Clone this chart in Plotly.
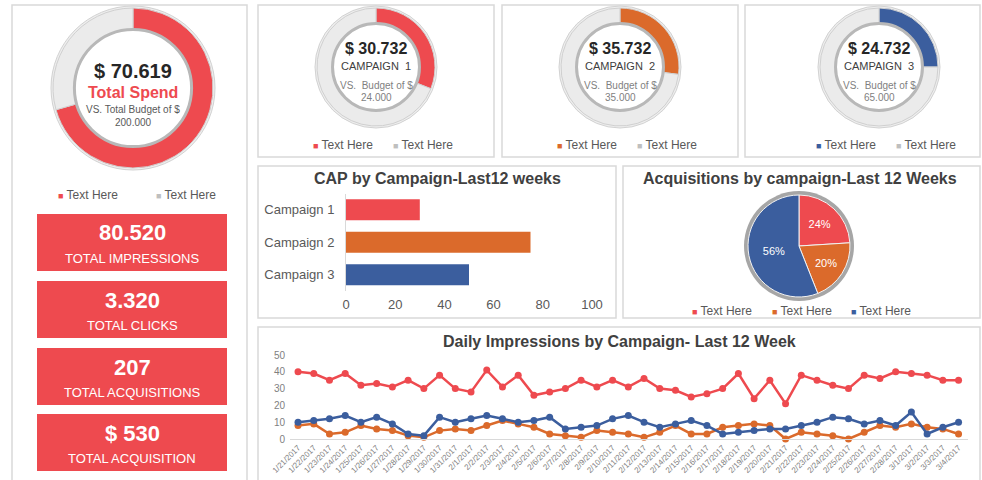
import plotly.graph_objects as go

W, H = 982, 480
FONT = "Liberation Sans, Arial, sans-serif"
RED = "#EE4A4F"
ORANGE = "#DB6A2B"
BLUE = "#3B5E9E"
LIGHT = "#EBEBEB"
DARK = "#262626"
TITLE = "#404040"
GREY = "#595959"

# ---------------- data ----------------
total_spend = "$ 70.619"
total_budget = "200.000"
spend_share = [70.619, 29.381]

campaign_names = ["Campaign 1", "Campaign 2", "Campaign 3"]
campaign_spend = ["$ 30.732", "$ 35.732", "$ 24.732"]
campaign_budget = ["24.000", "35.000", "65.000"]
campaign_share = [31, 27, 25]
campaign_colors = [RED, ORANGE, BLUE]

cap_values = [30, 75, 50]
acq_share = [24, 20, 56]
legend_text = "Text Here"

kpi_values = ["80.520", "3.320", "207", "$ 530"]
kpi_labels = ["TOTAL IMPRESSIONS", "TOTAL CLICKS", "TOTAL ACQUISITIONS", "TOTAL ACQUISITION"]

dates = ["1/21/2017", "1/22/2017", "1/23/2017", "1/24/2017", "1/25/2017", "1/26/2017",
         "1/27/2017", "1/28/2017", "1/29/2017", "1/30/2017", "1/31/2017",
         "2/1/2017", "2/2/2017", "2/3/2017", "2/4/2017", "2/5/2017", "2/6/2017", "2/7/2017",
         "2/8/2017", "2/9/2017", "2/10/2017", "2/11/2017", "2/12/2017", "2/13/2017",
         "2/14/2017", "2/15/2017", "2/16/2017", "2/17/2017", "2/18/2017", "2/19/2017",
         "2/20/2017", "2/21/2017", "2/22/2017", "2/23/2017", "2/24/2017", "2/25/2017",
         "2/26/2017", "2/27/2017", "2/28/2017", "3/1/2017", "3/2/2017", "3/3/2017", "3/4/2017"]
imp_c1 = [40, 39, 35, 39, 32, 33, 31, 35, 30, 38, 30, 28, 41, 31, 38, 26, 28, 30, 35, 31, 35,
          31, 36, 30, 29, 25, 27, 30, 39, 24, 35, 21, 38, 35, 32, 30, 38, 36, 40, 39, 38, 35, 35]
imp_c2 = [8, 9, 3, 4, 8, 6, 5, 2, 1, 5, 6, 5, 8, 11, 9, 7, 3, 2, 1, 5, 4,
          3, 1, 4, 8, 3, 3, 7, 8, 9, 8, 0, 4, 3, 2, 0, 4, 8, 7, 9, 7, 6, 3]
imp_c3 = [10, 11, 12, 14, 10, 13, 9, 3, 2, 13, 10, 12, 14, 12, 10, 11, 13, 6, 7, 8, 12,
          14, 10, 7, 9, 11, 8, 3, 4, 5, 6, 6, 8, 10, 13, 12, 9, 11, 8, 16, 3, 7, 10]


def px(x):
    return x / W


def py(y):
    return 1 - y / H


fig = go.Figure()
shapes = []
annotations = []


def ann(x, y, text, size=12, color=GREY, bold=False, xanchor="center"):
    if bold:
        text = "<b>" + text + "</b>"
    annotations.append(dict(x=px(x), y=py(y), xref="paper", yref="paper", text=text,
                            showarrow=False, xanchor=xanchor, yanchor="middle",
                            font=dict(family=FONT, size=size, color=color)))


def circle(cx, cy, r, fill, line, lw, layer):
    shapes.append(dict(type="circle", xref="paper", yref="paper",
                       x0=px(cx - r), x1=px(cx + r), y0=py(cy + r), y1=py(cy - r),
                       fillcolor=fill, line=dict(color=line, width=lw), layer=layer))


def legend_item(x, y, color, text):
    ann(x, y, "<span style='color:%s;font-size:9px'>■</span> %s" % (color, text),
        size=12, color=GREY, xanchor="left")


def donut(cx, cy, r, values, color):
    circle(cx, cy, r + 2, "#EEEEEE", "#D2D2D2", 1, "below")
    fig.add_trace(go.Pie(values=values, hole=0.72, sort=False, direction="clockwise",
                         rotation=0, textinfo="none", hoverinfo="skip",
                         marker=dict(colors=[color, LIGHT], line=dict(color="#D0D0D0", width=1)),
                         domain=dict(x=[px(cx - r), px(cx + r)], y=[py(cy + r), py(cy - r)]),
                         showlegend=False))
    ir = r * 0.72 + 1
    circle(cx, cy, ir, "white", "#B8B8B8", 3, "above")


# ---------------- panels ----------------
panels = [(12, 5, 247, 482), (258, 5, 494, 157), (502, 5, 738, 157), (745, 5, 980, 157),
          (258, 166, 616, 318), (623, 166, 980, 318), (258, 327, 980, 482)]
for (x0, y0, x1, y1) in panels:
    shapes.append(dict(type="rect", xref="paper", yref="paper", x0=px(x0), x1=px(x1),
                       y0=py(y1), y1=py(y0), fillcolor="white",
                       line=dict(color="#D9D9D9", width=1.5), layer="below"))

# ---------------- big donut ----------------
donut(133, 88, 80, spend_share, RED)
ann(133, 71, total_spend, 20, DARK, True)
ann(133, 92, "Total Spend", 16, RED, True)
ann(133, 110, "VS. Total Budget of $", 10, GREY)
ann(133, 122, total_budget, 10, GREY)
legend_item(56, 195, RED, legend_text)
legend_item(154, 195, "#BFBFBF", legend_text)

# ---------------- KPI boxes ----------------
kpi_tops = [214, 281, 348, 414]
for top, val, lab in zip(kpi_tops, kpi_values, kpi_labels):
    shapes.append(dict(type="rect", xref="paper", yref="paper", x0=px(37), x1=px(227),
                       y0=py(top + 57), y1=py(top), fillcolor=RED, line=dict(width=0),
                       layer="above"))
    ann(132, top + 19, val, 22, "white", True)
    ann(132, top + 44, lab, 13, "white")

# ---------------- campaign donuts ----------------
centers = [376, 620, 879]
for cx, name, sp, bud, share, col in zip(centers, campaign_names, campaign_spend,
                                         campaign_budget, campaign_share, campaign_colors):
    donut(cx, 67, 59, [share, 100 - share], col)
    ann(cx, 49, sp, 16, DARK, True)
    ann(cx, 66, name.upper().replace(" ", "  "), 11, TITLE)
    ann(cx, 85, "VS.  Budget of $", 10, "#7F7F7F")
    ann(cx, 97, bud, 10, "#7F7F7F")
    legend_item(cx - 65, 145, col, legend_text)
    legend_item(cx + 15, 145, "#BFBFBF", legend_text)

# ---------------- bar chart ----------------
fig.add_trace(go.Bar(x=cap_values, y=campaign_names, orientation="h",
                     marker=dict(color=campaign_colors, line=dict(width=0)), width=0.65,
                     xaxis="x", yaxis="y", showlegend=False, hoverinfo="skip"))
ann(437, 178, "CAP by Campaign-Last12 weeks", 16, TITLE, True)

# ---------------- pie chart ----------------
circle(799, 246, 55, "#A6A6A6", "#A6A6A6", 0, "below")
fig.add_trace(go.Pie(values=acq_share, labels=campaign_names, sort=False, direction="clockwise",
                     rotation=0, textinfo="percent", texttemplate="%{percent:.0%}",
                     textposition="inside", insidetextorientation="horizontal",
                     textfont=dict(family=FONT, size=11, color="white"),
                     marker=dict(colors=campaign_colors, line=dict(color="#F2F2F2", width=1)),
                     domain=dict(x=[px(748), px(850)], y=[py(297), py(195)]),
                     showlegend=False, hoverinfo="skip"))
ann(800, 178, "Acquisitions by campaign-Last 12 Weeks", 16, TITLE, True)
for xs, col in zip([690, 770, 849], campaign_colors):
    legend_item(xs, 311, col, legend_text)

# ---------------- line chart ----------------
for vals, col in [(imp_c1, RED), (imp_c2, ORANGE), (imp_c3, BLUE)]:
    fig.add_trace(go.Scatter(x=dates, y=vals, mode="lines+markers", xaxis="x2", yaxis="y2",
                             line=dict(color=col, width=2.5), marker=dict(color=col, size=7),
                             cliponaxis=False, showlegend=False, hoverinfo="skip"))
ann(619, 341, "Daily Impressions by Campaign- Last 12 Week", 16, TITLE, True)

fig.update_layout(
    width=W, height=H, margin=dict(l=0, r=0, t=0, b=0, pad=0), autosize=False,
    paper_bgcolor="white", plot_bgcolor="rgba(0,0,0,0)",
    font=dict(family=FONT, color=GREY),
    showlegend=False,
    xaxis=dict(domain=[px(346), px(592)], range=[0, 100], tickvals=[0, 20, 40, 60, 80, 100],
               showgrid=False, zeroline=False, showline=False, ticks="",
               tickfont=dict(family=FONT, size=13, color=GREY), ticklabelstandoff=4,
               anchor="y", fixedrange=True, automargin=False),
    yaxis=dict(domain=[py(291), py(193.5)], type="category", categoryarray=campaign_names,
               range=[2.5, -0.5], showgrid=False, zeroline=False, showline=True,
               linecolor="#D9D9D9", linewidth=1, ticks="",
               tickfont=dict(family=FONT, size=13, color=GREY), ticklabelstandoff=8,
               anchor="x", fixedrange=True, automargin=False),
    xaxis2=dict(domain=[px(290), px(968)], type="category", categoryarray=dates,
                range=[-0.51, 42.6], tickangle=-45, showgrid=False, zeroline=False,
                showline=True, linecolor="#D9D9D9", linewidth=1, ticks="",
                tickfont=dict(family=FONT, size=8, color="#7F7F7F"), anchor="y2",
                fixedrange=True, automargin=False),
    yaxis2=dict(domain=[py(439), py(355)], range=[0, 50], dtick=10, showgrid=False,
                zeroline=False, showline=False, ticks="",
                tickfont=dict(family=FONT, size=10, color="#7F7F7F"), ticklabelstandoff=4,
                anchor="x2", fixedrange=True, automargin=False),
    shapes=shapes, annotations=annotations,
)

fig.write_html("out.html", config={"displayModeBar": False},
               post_script="document.body.style.margin='0';document.body.style.overflow='hidden';")
